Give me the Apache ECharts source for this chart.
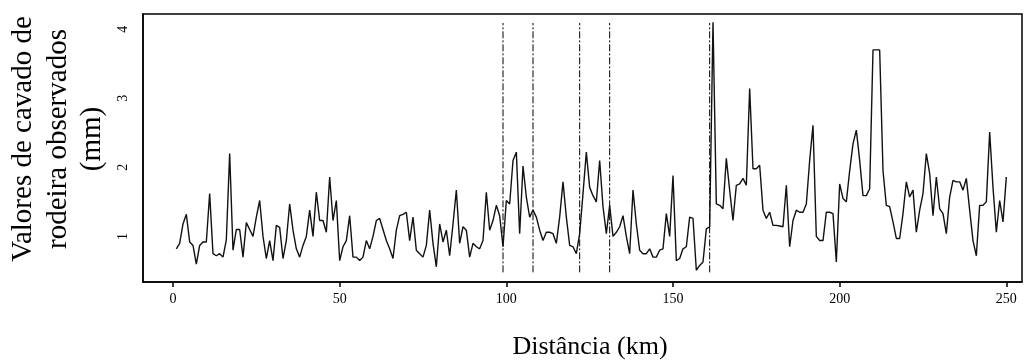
<!DOCTYPE html>
<html>
<head>
<meta charset="utf-8">
<script src="https://cdn.jsdelivr.net/npm/echarts@6/dist/echarts.min.js"></script>
<style>
html,body{margin:0;padding:0;background:#fff;}
#chart{width:1032px;height:363px;}
</style>
</head>
<body>
<div id="chart"></div>
<script>
// Distance starts at km 1, one observation per km
const distanceStart = 1;
const rutValues = [
  0.82,0.90,1.18,1.32,0.92,0.87,0.60,0.87,0.92,0.92,
  1.62,0.75,0.72,0.75,0.70,0.95,2.20,0.80,1.10,1.10,
  0.70,1.20,1.10,1.00,1.28,1.52,1.00,0.68,0.94,0.65,
  1.16,1.13,0.68,0.94,1.47,1.09,0.82,0.70,0.87,1.00,
  1.38,1.00,1.64,1.23,1.23,1.06,1.86,1.23,1.52,0.65,
  0.85,0.94,1.30,0.70,0.70,0.65,0.70,0.94,0.82,1.00,
  1.23,1.26,1.10,0.94,0.82,0.68,1.09,1.30,1.32,1.35,
  0.94,1.28,0.80,0.75,0.70,0.87,1.38,0.90,0.56,1.18,
  0.92,1.09,0.72,1.18,1.67,0.90,1.14,1.09,0.70,0.90,
  0.85,0.82,0.94,1.64,1.09,1.23,1.45,1.30,0.85,1.52,
  1.47,2.10,2.22,1.04,2.02,1.57,1.28,1.38,1.28,1.09,
  0.94,1.06,1.06,1.04,0.90,1.28,1.79,1.28,0.87,0.85,
  0.75,1.04,1.62,2.22,1.71,1.59,1.50,2.10,1.43,1.04,
  1.45,1.00,1.06,1.14,1.30,1.00,0.75,1.67,1.18,0.80,
  0.75,0.75,0.82,0.70,0.70,0.80,0.82,1.33,1.00,1.88,
  0.65,0.68,0.82,0.85,1.28,1.26,0.51,0.58,0.63,1.11,
  1.14,4.10,1.47,1.45,1.40,2.13,1.67,1.23,1.74,1.76,
  1.84,1.74,3.14,1.98,1.98,2.03,1.38,1.26,1.35,1.16,
  1.16,1.15,1.14,1.74,0.85,1.23,1.38,1.35,1.35,1.47,
  2.10,2.61,1.00,0.94,0.94,1.35,1.35,1.33,0.63,1.76,
  1.55,1.50,1.95,2.34,2.54,2.10,1.59,1.59,1.69,3.70,
  3.70,3.70,1.95,1.45,1.43,1.21,0.97,0.97,1.33,1.79,
  1.57,1.67,1.06,1.38,1.62,2.20,1.91,1.30,1.86,1.40,
  1.33,1.04,1.57,1.81,1.79,1.79,1.67,1.84,1.38,0.94,
  0.72,1.45,1.45,1.50,2.51,1.71,1.06,1.52,1.21,1.86
];
const breakPoints = [99, 108, 122, 131, 161];
const breakYRange = [0.48, 4.09];
const xTicks = [0, 50, 100, 150, 200, 250];
const yTicks = [1, 2, 3, 4];
const xTitle = 'Distância (km)';
const yTitleLines = ['Valores de cavado de', 'rodeira observados', '(mm)'];

const lineData = rutValues.map((v, i) => [distanceStart + i, v]);
const breakSeries = breakPoints.map(b => ({
  type: 'line',
  data: [[b, breakYRange[0]], [b, breakYRange[1]]],
  showSymbol: false,
  silent: true,
  lineStyle: { color: '#000', width: 1, type: [7, 2, 2, 2] },
  z: 1
}));

const chart = echarts.init(document.getElementById('chart'));
const serif = 'Liberation Serif';
const titleFont = '29px "Liberation Serif"';
chart.setOption({
  animation: false,
  backgroundColor: '#fff',
  grid: { left: 143, right: 10, top: 14, bottom: 81, show: true, borderColor: '#000', borderWidth: 1.5, backgroundColor: 'transparent' },
  xAxis: {
    type: 'value', min: -9, max: 254.7,
    axisLine: { show: true, onZero: false, lineStyle: { color: '#000', width: 1.5 } },
    axisTick: { show: true, length: 5, customValues: xTicks, lineStyle: { color: '#000', width: 1.5 } },
    axisLabel: { customValues: xTicks, margin: 10, color: '#000', fontFamily: serif, fontSize: 14 },
    splitLine: { show: false }
  },
  yAxis: {
    type: 'value', min: 0.34, max: 4.22,
    axisLine: { show: true, onZero: false, lineStyle: { color: '#000', width: 1.5 } },
    axisTick: { show: false, customValues: yTicks },
    axisLabel: { customValues: yTicks, rotate: 90, margin: 13, color: '#000', fontFamily: serif, fontSize: 14 },
    splitLine: { show: false }
  },
  graphic: [
    { type: 'text', x: 590, y: 347, style: { text: xTitle, font: '26px "Liberation Serif"', fill: '#000', textAlign: 'center', textVerticalAlign: 'middle' } },
    { type: 'text', x: 23, y: 139, rotation: Math.PI / 2, style: { text: yTitleLines[0], font: titleFont, fill: '#000', textAlign: 'center', textVerticalAlign: 'middle' } },
    { type: 'text', x: 58, y: 139, rotation: Math.PI / 2, style: { text: yTitleLines[1], font: titleFont, fill: '#000', textAlign: 'center', textVerticalAlign: 'middle' } },
    { type: 'text', x: 92, y: 139, rotation: Math.PI / 2, style: { text: yTitleLines[2], font: titleFont, fill: '#000', textAlign: 'center', textVerticalAlign: 'middle' } }
  ],
  series: [
    {
      type: 'line',
      data: lineData,
      showSymbol: false,
      silent: true,
      lineStyle: { color: '#111', width: 1.4 },
      z: 2
    }
  ].concat(breakSeries)
});
</script>
</body>
</html>
